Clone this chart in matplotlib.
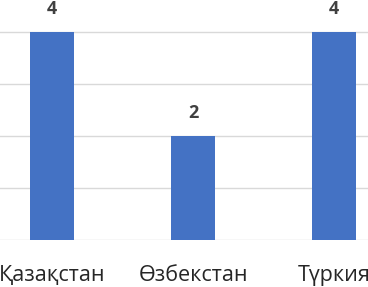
import matplotlib
matplotlib.use("Agg")
import matplotlib.pyplot as plt

# данные
categories = ["Қазақстан", "Өзбекстан", "Түркия"]
values = [4, 2, 4]

plt.rcParams["font.family"] = ["Open Sans", "DejaVu Sans"]

fig = plt.figure(figsize=(3.68, 2.87), dpi=100)
ax = fig.add_axes([0, 47 / 287, 1, 240 / 287])

x = list(range(len(categories)))
bars = ax.bar(x, values, width=0.31, color="#4472C4", zorder=3)

for xi, v in zip(x, values):
    ax.annotate(str(v), (xi, v), xytext=(0, 10), textcoords="offset points",
                ha="center", va="bottom", fontsize=13, fontweight="bold",
                color="#404040")

ax.set_xlim(-0.369, 2.241)
ax.set_ylim(0, 4.615)
ax.set_yticks([0, 1, 2, 3, 4])
ax.yaxis.grid(True, color="#d9d9d9", linewidth=1, zorder=0)
ax.set_yticklabels([])
ax.tick_params(axis="y", length=0)
ax.set_xticks(x)
ax.set_xticklabels(categories, fontsize=15.5, color="#262626")
ax.tick_params(axis="x", length=0, pad=18)
for s in ax.spines.values():
    s.set_visible(False)

fig.savefig("out.png", dpi=100)
